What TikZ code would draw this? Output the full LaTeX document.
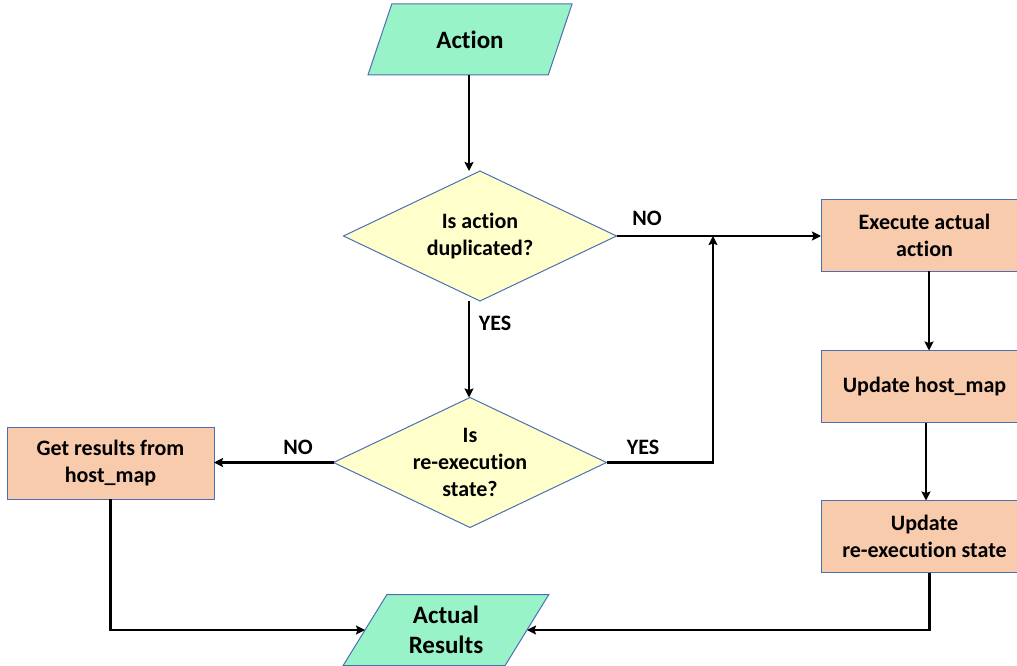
\documentclass[tikz,border=0pt]{standalone}
\usepackage{fontspec}
\setmainfont{Carlito}[Ligatures=NoCommon]
\usetikzlibrary{shapes.geometric,arrows.meta}

\definecolor{mint}{RGB}{153,243,201}
\definecolor{paleyellow}{RGB}{255,255,204}
\definecolor{salmon}{RGB}{248,203,173}
\definecolor{edgeblue}{RGB}{78,110,180}

\tikzset{
  txt/.style={font=\bfseries\fontsize{22}{27}\selectfont, align=center},
  bigtxt/.style={font=\bfseries\fontsize{25}{30}\selectfont, align=center},
  iobox/.style={trapezium, trapezium left angle=60, trapezium right angle=120,
    trapezium stretches=true, minimum width=206pt, minimum height=71pt,
    inner sep=0pt, outer sep=0pt, draw=edgeblue, line width=1pt, fill=mint, bigtxt},
  decision/.style={diamond, aspect=2.1, minimum width=273pt, minimum height=130pt,
    inner sep=-6pt, outer sep=0pt, draw=edgeblue, line width=1pt, fill=paleyellow, txt},
  process/.style={rectangle, minimum width=207pt, minimum height=72pt,
    inner sep=0pt, outer sep=0pt, draw=edgeblue, line width=1pt, fill=salmon, txt},
  flow/.style={draw=black, line width=2.6pt, -{Stealth[length=9pt,width=9pt,inset=1.5pt]}},
  lbl/.style={txt}
}

\begin{document}
\begin{tikzpicture}[x=1pt,y=-1pt]
  \useasboundingbox (0,0) rectangle (1017,666);

  % shapes
  \node[iobox] (act) at (470,39.5) {Action};
  \node[decision] (dup) at (480,236) {Is action\\duplicated?};
  \node[decision] (reex) at (470,462.5) {Is\\re-execution\\state?};
  \node[process] (get) at (110.5,463) {Get results from\\host\_map};
  \node[process] (exec) at (924.5,235) {Execute actual\\action};
  \node[process] (upd) at (924.5,386.5) {Update host\_map};
  \node[process] (ures) at (924.5,536.5) {Update\\re-execution state};
  \node[iobox] (res) at (446,630) {Actual\\Results};

  % junction where the YES branch joins the NO branch
  \coordinate (join) at (713,236);

  % connectors
  \draw[flow] ([xshift=-1pt]act.south) -- ([xshift=-1pt]act.south |- dup.north);
  \draw[flow] (dup.east) -- (dup.east -| exec.west);
  \draw[flow] ([xshift=-1pt]act.south |- dup.south) -- ([xshift=-1pt]act.south |- reex.north);
  \draw[flow] (reex.west) -- (reex.west -| get.east);
  \draw[flow] (reex.east) -| (join);
  \draw[flow] ([xshift=4.5pt]exec.south) -- ([xshift=4.5pt]exec.south |- upd.north);
  \draw[flow] ([xshift=1.5pt]upd.south) -- ([xshift=1.5pt]upd.south |- ures.north);
  \draw[flow] (get.south) |- (res.west);
  \draw[flow] ([xshift=5pt]ures.south) |- (res.east);

  % branch labels
  \node[lbl] (dupno) at (647,218) {NO};
  \node[lbl] (dupyes) at (495,323) {YES};
  \node[lbl] (reexno) at (298,447) {NO};
  \node[lbl] (reexyes) at (643,447) {YES};
\end{tikzpicture}
\end{document}
